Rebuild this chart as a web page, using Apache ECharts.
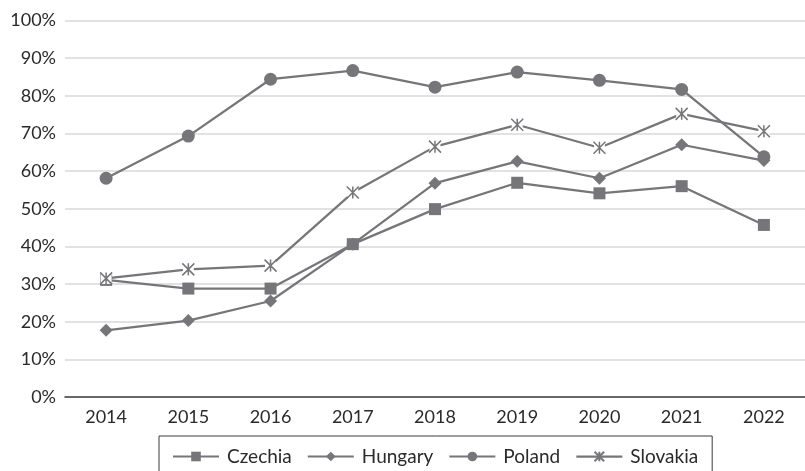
<!DOCTYPE html>
<html>
<head>
<meta charset="utf-8">
<title>Share by country, 2014–2022</title>
<script src="https://cdn.jsdelivr.net/npm/echarts@6/dist/echarts.min.js"></script>
<style>
  html, body { margin: 0; padding: 0; background: #ffffff; }
  #chart { width: 805px; height: 471px; }
</style>
</head>
<body>
<div id="chart"></div>
<script>
// Categories (years) and series values in percent
const years = ['2014', '2015', '2016', '2017', '2018', '2019', '2020', '2021', '2022'];
const czechia  = [31.1, 28.8, 28.8, 40.6, 49.9, 56.9, 54.1, 56.0, 45.7];
const hungary  = [17.7, 20.3, 25.5, 40.6, 56.8, 62.6, 58.1, 67.0, 62.8];
const poland   = [58.1, 69.3, 84.4, 86.7, 82.3, 86.3, 84.1, 81.7, 63.8];
const slovakia = [31.5, 33.9, 34.9, 54.3, 66.5, 72.3, 66.2, 75.2, 70.6];

// Value axis ticks
const yMin = 0, yMax = 100, yStep = 10;

const GRAY = '#76767a';
const TEXT = '#2a2a2a';
const FONT = 'Lato';
const STAR = 'path://M0,0L10,10M10,0L0,10M5,0L5,10';

function lineSeries(name, data, symbol, size) {
  return {
    name: name,
    type: 'line',
    data: data,
    symbol: symbol,
    symbolSize: size,
    showAllSymbol: true,
    lineStyle: { color: GRAY, width: 2.25 },
    itemStyle: { color: GRAY, borderWidth: 0 },
    emphasis: { disabled: true },
    animation: false
  };
}

const chart = echarts.init(document.getElementById('chart'), null, { renderer: 'canvas' });

chart.setOption({
  backgroundColor: '#ffffff',
  animation: false,
  textStyle: { fontFamily: FONT },
  grid: { left: 65, top: 20.5, width: 745, bottom: 74, containLabel: false },
  xAxis: {
    type: 'category',
    data: years,
    boundaryGap: true,
    axisTick: { show: false },
    axisLine: { lineStyle: { color: '#404040', width: 1.5 } },
    axisLabel: { color: TEXT, fontSize: 18, fontFamily: FONT, margin: 11 },
    splitLine: { show: false }
  },
  yAxis: {
    type: 'value',
    min: yMin,
    max: yMax,
    interval: yStep,
    axisLine: { show: false },
    axisTick: { show: false },
    axisLabel: { color: TEXT, fontSize: 18, fontFamily: FONT, margin: 9, formatter: '{value}%' },
    splitLine: { lineStyle: { color: '#d9d9d9', width: 1.5 } }
  },
  legend: {
    left: 159,
    top: 436,
    orient: 'horizontal',
    padding: [11, 14, 30, 13],
    borderColor: '#3a3a3a',
    borderWidth: 1,
    itemWidth: 46,
    itemHeight: 12,
    itemGap: 15,
    selectedMode: false,
    textStyle: { color: TEXT, fontSize: 19, fontFamily: FONT, padding: [0, 0, 0, 3] },
    data: [
      'Czechia',
      'Hungary',
      'Poland',
      { name: 'Slovakia', lineStyle: { color: GRAY, width: 2.25, opacity: 1 } }
    ]
  },
  series: [
    lineSeries('Czechia', czechia, 'rect', 12),
    lineSeries('Hungary', hungary, 'diamond', 13),
    lineSeries('Poland', poland, 'circle', 13),
    // Slovakia line with white square backings behind its star markers
    Object.assign(lineSeries('Slovakia line', slovakia, 'rect', 11), {
      itemStyle: { color: '#ffffff', borderWidth: 0 }
    }),
    // Star markers for Slovakia
    {
      name: 'Slovakia',
      type: 'line',
      data: slovakia,
      symbol: STAR,
      symbolSize: 12,
      symbolKeepAspect: true,
      showAllSymbol: true,
      silent: true,
      lineStyle: { color: GRAY, width: 0, opacity: 0 },
      itemStyle: { color: '#ffffff', borderColor: GRAY, borderWidth: 1.5 },
      emphasis: { disabled: true },
      animation: false
    }
  ]
});
</script>
</body>
</html>
